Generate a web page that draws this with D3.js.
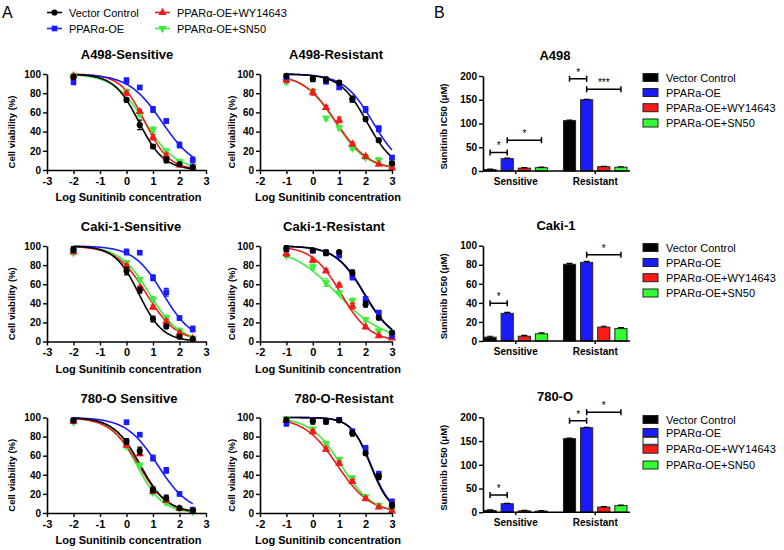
<!DOCTYPE html>
<html><head><meta charset="utf-8">
<script src="https://cdn.jsdelivr.net/npm/d3@7"></script>
<style>body{margin:0;background:#fff} svg{display:block;font-family:"Liberation Sans",Arial,sans-serif}</style>
</head><body><svg id="c" width="784" height="550"></svg>
<script>
// ---------- DATA ----------
const seriesNames = ["Vector Control", "PPARα-OE", "PPARα-OE+WY14643", "PPARα-OE+SN50"];
const seriesNamesA498 = ["Vector Control", "PPARa-OE", "PPARa-OE+WY14643", "PPARa-OE+SN50"];
const seriesColors = ["#000000", "#1a1aff", "#f01c1c", "#3ded3d"];
const barColors = ["#000000", "#1a1aff", "#ff1a1a", "#33ff33"];
const dosesS = [-2, 0, 0.5, 1, 1.5, 2, 2.5];
const dosesR = [-1, 0, 0.5, 1, 1.5, 2, 2.5, 3];
const xTicksS = [-3, -2, -1, 0, 1, 2, 3];
const xTicksR = [-2, -1, 0, 1, 2, 3];
const yTicksViab = [0, 20, 40, 60, 80, 100];

// viability means per series (VC, OE, WY, SN50)
const a498S = [[97,73,47,24.5,10.5,6,3],[92,93,86,63,51,26,10.5],[98,80,61,34,15,5,2.5],[98,82,58,42,20,9,4]];
const a498R = [[98,95,94,91,74,53,31,7],[96.5,95,92,86,73,63,43,13],[94,81,65,52,27,14,6,2],[92,82,54,44,23,13,10,3]];
const cakiS = [[96.5,73.7,53.7,23.5,15.8,5,2.5],[95.5,93.7,93,66.7,51.6,24.6,13],[94,79,56,36,21,8.8,3],[93,82.5,65,43.9,24.6,11,3.5]];
const cakiR = [[97.5,95.5,93,93.7,72,39,25,9.4],[96.5,95,93,90,67.6,44.6,30.3,6],[92,85,74,59,37,15.3,6,3.5],[90,78,61.7,51,42.5,23,11,6]];
const o780S = [[96.9,75,65,24.4,15.7,5.2,2.8],[97,95,82,57.5,44.6,20,3.5],[96,71,62,22.6,13,4.5,1.7],[95,70,50,21.6,11,4,1.4]];
const o780R = [[97.5,96,96,97,83.5,62.5,38,8],[94,97.5,96,97.5,85,67.7,40.7,11.6],[97,85,66.7,52,33,15,6.3,2],[99,88,73,56,36.8,16.8,8,4.5]];
// error (SEM) per series
const a498SErr = [[2,2,5,2,3,2,1],[3,3,2,3,2,3,3],[1,2,2,3,2,1,1],[1,2,2,3,2,2,1]];
const a498RErr = [[2,3,3,2,3,2,2,2],[2,2,2,2,2,3,3,2],[3,3,2,3,2,2,1,1],[2,2,2,2,2,2,3,1]];
const cakiSErr = [[3,4,3,3,2,1,1],[2,3,1,3,4,2,3],[2,2,2,2,2,2,1],[2,2,2,3,3,3,1]];
const cakiRErr = [[3,2,3,1,3,3,2,1],[2,2,2,2,3,2,2,2],[3,2,2,2,3,2,1,1],[2,3,4,2,3,2,2,1]];
const o780SErr = [[2,3,4,3,3,1,1],[2,2,1,3,3,2,1],[2,2,2,2,2,1,1],[1,2,2,2,2,1,1]];
const o780RErr = [[2,3,3,2,3,2,3,3],[3,2,2,2,3,3,3,3],[2,2,2,2,2,2,1,1],[1,2,2,2,2,2,2,1]];
// fitted curve parameters [logIC50, hill slope]
const a498SFit = [[0.47,0.92],[1.34,0.69],[0.70,0.95],[0.69,0.74]];
const a498RFit = [[2.05,0.85],[2.27,0.79],[0.88,0.705],[0.85,0.72]];
const cakiSFit = [[0.466,0.96],[1.38,0.787],[0.75,0.767],[0.87,0.774]];
const cakiRFit = [[1.96,0.8],[1.94,0.8],[1.07,0.798],[0.924,0.488]];
const o780SFit = [[0.525,0.864],[1.18,0.732],[0.46,0.8],[0.39,0.9]];
const o780RFit = [[2.19,1.18],[2.21,1.16],[0.93,0.70],[1.08,0.75]];

// IC50 bars (Sensitive, Resistant) per series
const groups = ["Sensitive", "Resistant"];
const ic50A498 = [[3,106],[26,150],[6,9],[7,8]];
const ic50Caki = [[4,80.5],[29,82.5],[5,14.5],[7.5,13]];
const ic50780 = [[4,155],[18,178],[3,11],[2.5,14]];
const ic50Err = [[1,1],[1,1],[1,1],[1,1]];
const yTicksA498 = [0,50,100,150,200];
const yTicksCaki = [0,20,40,60,80,100];
const yTicks780 = [0,50,100,150,200];
// significance: [group, series i, series j, height (µM), label]
const sigA498 = [[0,0,1,39,"*"],[0,1,3,65,"*"],[1,0,1,194,"*"],[1,1,3,172,"***"]];
const sigCaki = [[0,0,1,39.6,"*"],[1,1,3,90.5,"*"]];
const sig780 = [[0,0,1,36.4,"*"],[1,0,1,192.8,"*"],[1,1,3,210.5,"*"]];

// ---------- DRAW ----------
const svg = d3.select("#c");
const symbols = [d3.symbolCircle, d3.symbolSquare, d3.symbolTriangle, d3.symbolTriangle];
const symRot = [0, 0, 0, 180];
const symSize = [30, 32, 30, 30];

function marker(g, i, cx, cy) {
  g.append("path").attr("d", d3.symbol().type(symbols[i]).size(symSize[i])())
    .attr("transform", `translate(${cx},${cy}) rotate(${symRot[i]})`)
    .attr("fill", seriesColors[i]);
}

function styleAxis(sel, fs) {
  sel.select(".domain").attr("stroke", "#000").attr("stroke-width", 1.6);
  sel.selectAll(".tick line").attr("stroke", "#000").attr("stroke-width", 1.4);
  sel.selectAll(".tick text").attr("font-size", fs).attr("font-weight", "bold").attr("fill", "#000")
    .attr("font-family", '"Liberation Sans", Arial, sans-serif');
}

function curvePanel(p) {
  const x = d3.scaleLinear().domain(p.dom).range(p.xr);
  const y = d3.scaleLinear().domain([0, 100]).range([p.yr[1], p.yr[0]]);
  const g = svg.append("g");
  const order = [3, 2, 1, 0];
  order.forEach(i => {
    const [c, h] = p.fit[i];
    const x0 = p.doses[0], x1 = p.doses[p.doses.length - 1];
    const pts = d3.range(0, 121).map(k => x0 + (x1 - x0) * k / 120);
    const line = d3.line().x(d => x(d)).y(d => y(100 / (1 + Math.pow(10, (d - c) * h))));
    g.append("path").attr("d", line(pts)).attr("fill", "none")
      .attr("stroke", seriesColors[i]).attr("stroke-width", 1.6);
  });
  order.forEach(i => {
    p.data[i].forEach((v, k) => {
      const cx = x(p.doses[k]), e = p.err[i][k];
      g.append("path").attr("d", `M${cx},${y(v - e)}V${y(v + e)}M${cx - 2.5},${y(v - e)}H${cx + 2.5}M${cx - 2.5},${y(v + e)}H${cx + 2.5}`)
        .attr("stroke", seriesColors[i]).attr("stroke-width", 1.2).attr("fill", "none");
      marker(g, i, cx, y(v));
    });
  });
  const xa = g.append("g").attr("transform", `translate(0,${p.yr[1]})`)
    .call(d3.axisBottom(x).tickValues(p.ticks).tickSize(4).tickSizeOuter(0).tickPadding(3).tickFormat(d => String(d)));
  styleAxis(xa, 11);
  const ya = g.append("g").attr("transform", `translate(${p.xr[0]},0)`)
    .call(d3.axisLeft(y).tickValues(yTicksViab).tickSize(4).tickSizeOuter(0).tickPadding(2));
  styleAxis(ya, 10);
  g.append("text").attr("x", p.titleX).attr("y", p.yr[0] - 15).attr("text-anchor", "middle")
    .attr("font-size", 13).attr("font-weight", "bold").text(p.title);
  g.append("text").attr("x", (p.xr[0] + p.xr[1]) / 2 + 2).attr("y", p.yr[1] + 31).attr("text-anchor", "middle")
    .attr("font-size", 11).attr("font-weight", "bold").text("Log Sunitinib concentration");
  g.append("text").attr("transform", `translate(${p.yLabX},${(p.yr[0] + p.yr[1]) / 2 + 10}) rotate(-90)`)
    .attr("text-anchor", "middle").attr("dominant-baseline", "central")
    .attr("font-size", 9.5).attr("font-weight", "bold").text("Cell viability (%)");
}

const L = [47, 206], R = [260, 392];
const rowY = [[74, 170], [246, 341.5], [417.5, 513]];
curvePanel({title: "A498-Sensitive", data: a498S, err: a498SErr, fit: a498SFit, doses: dosesS, ticks: xTicksS, dom: [-3, 3], xr: L, yr: rowY[0], titleX: 127, yLabX: 11});
curvePanel({title: "A498-Resistant", data: a498R, err: a498RErr, fit: a498RFit, doses: dosesR, ticks: xTicksR, dom: [-2, 3], xr: R, yr: rowY[0], titleX: 336, yLabX: 231});
curvePanel({title: "Caki-1-Sensitive", data: cakiS, err: cakiSErr, fit: cakiSFit, doses: dosesS, ticks: xTicksS, dom: [-3, 3], xr: L, yr: rowY[1], titleX: 131, yLabX: 11});
curvePanel({title: "Caki-1-Resistant", data: cakiR, err: cakiRErr, fit: cakiRFit, doses: dosesR, ticks: xTicksR, dom: [-2, 3], xr: R, yr: rowY[1], titleX: 334, yLabX: 231});
curvePanel({title: "780-O Sensitive", data: o780S, err: o780SErr, fit: o780SFit, doses: dosesS, ticks: xTicksS, dom: [-3, 3], xr: L, yr: rowY[2], titleX: 129, yLabX: 11});
curvePanel({title: "780-O-Resistant", data: o780R, err: o780RErr, fit: o780RFit, doses: dosesR, ticks: xTicksR, dom: [-2, 3], xr: R, yr: rowY[2], titleX: 344, yLabX: 231});

// panel letters
svg.append("text").attr("x", 2).attr("y", 18).attr("font-size", 16).text("A");
svg.append("text").attr("x", 434).attr("y", 18).attr("font-size", 16).text("B");

// top legend for A
const legPos = [[47, 12.5], [47, 28.5], [155, 12.5], [155, 28.5]];
seriesNames.forEach((n, i) => {
  const [lx, ly] = legPos[i];
  const lg = svg.append("g");
  lg.append("line").attr("x1", lx).attr("x2", lx + 15).attr("y1", ly).attr("y2", ly)
    .attr("stroke", seriesColors[i]).attr("stroke-width", 1.6);
  marker(lg, i, lx + 7.5, ly);
  lg.append("text").attr("x", lx + 22).attr("y", ly + 4).attr("font-size", 11).text(n);
});

// bar panels
function barPanel(p) {
  const y = d3.scaleLinear().domain([0, p.ymax]).range([p.yr[1], p.yr[0]]);
  const gx = d3.scaleBand().domain(groups).range([484, 627]).paddingInner(0.2).paddingOuter(0);
  const sx = d3.scaleBand().domain(d3.range(4)).range([0, gx.bandwidth()]).paddingInner(0.29).paddingOuter(0);
  const g = svg.append("g");
  p.vals.forEach((vals, i) => {
    vals.forEach((v, k) => {
      const bx = gx(groups[k]) + sx(i);
      g.append("rect").attr("x", bx).attr("y", y(v)).attr("width", sx.bandwidth()).attr("height", y(0) - y(v))
        .attr("fill", barColors[i]).attr("stroke", "#222").attr("stroke-width", 1);
      const cx = bx + sx.bandwidth() / 2, e = ic50Err[i][k];
      g.append("path").attr("d", `M${cx},${y(v)}V${y(v + e)}M${cx - 3},${y(v + e)}H${cx + 3}`)
        .attr("stroke", "#000").attr("stroke-width", 1.2);
    });
  });
  p.sig.forEach(([k, i, j, v, lab]) => {
    const x1 = gx(groups[k]) + sx(i) + sx.bandwidth() / 2, x2 = gx(groups[k]) + sx(j) + sx.bandwidth() / 2, yy = y(v);
    g.append("path").attr("d", `M${x1},${yy - 3}V${yy + 3}M${x1},${yy}H${x2}M${x2},${yy - 3}V${yy + 3}`)
      .attr("stroke", "#000").attr("stroke-width", 1.5).attr("fill", "none");
    g.append("text").attr("x", (x1 + x2) / 2).attr("y", yy - 3).attr("text-anchor", "middle")
      .attr("font-size", 10).text(lab);
  });
  const ya = g.append("g").attr("transform", "translate(483,0)")
    .call(d3.axisLeft(y).tickValues(p.ticks).tickSize(4).tickSizeOuter(0).tickPadding(2));
  styleAxis(ya, 10);
  const xa = g.append("g").attr("transform", `translate(0,${p.yr[1]})`)
    .call(d3.axisBottom(gx).tickSize(3).tickSizeOuter(0).tickPadding(4));
  xa.select(".domain").attr("d", `M483,0H630`);
  styleAxis(xa, 10);
  g.append("text").attr("x", p.titleX).attr("y", p.yr[0] - 16).attr("text-anchor", "middle")
    .attr("font-size", 13).attr("font-weight", "bold").text(p.title);
  g.append("text").attr("transform", `translate(443,${(p.yr[0] + p.yr[1]) / 2 + 3}) rotate(-90)`)
    .attr("text-anchor", "middle").attr("dominant-baseline", "central")
    .attr("font-size", 9.5).attr("font-weight", "bold").text("Sunitinib IC50 (μM)");
  p.names.forEach((n, i) => {
    const ly = p.legY[i];
    g.append("rect").attr("x", 643).attr("y", ly - 4).attr("width", 15).attr("height", 8)
      .attr("fill", barColors[i]).attr("stroke", "#222").attr("stroke-width", 1);
    g.append("text").attr("x", 666).attr("y", ly + 4).attr("font-size", 11).text(n);
  });
  if (p.extraBox) {
    g.append("rect").attr("x", 643).attr("y", p.extraBox).attr("width", 15).attr("height", 7)
      .attr("fill", "#fff").attr("stroke", "#222").attr("stroke-width", 1);
  }
}

barPanel({title: "A498", titleX: 555, vals: ic50A498, ymax: 200, ticks: yTicksA498, yr: [76, 171], sig: sigA498, names: seriesNamesA498, legY: [77.5, 92.5, 107.7, 123]});
barPanel({title: "Caki-1", titleX: 556, vals: ic50Caki, ymax: 100, ticks: yTicksCaki, yr: [245.7, 341], sig: sigCaki, names: seriesNames, legY: [247.5, 262.5, 277.7, 293]});
barPanel({title: "780-O", titleX: 555, vals: ic50780, ymax: 200, ticks: yTicks780, yr: [417.3, 512.3], sig: sig780, names: seriesNames, legY: [419.5, 432.5, 449.2, 465], extraBox: 437.3});
</script></body></html>
